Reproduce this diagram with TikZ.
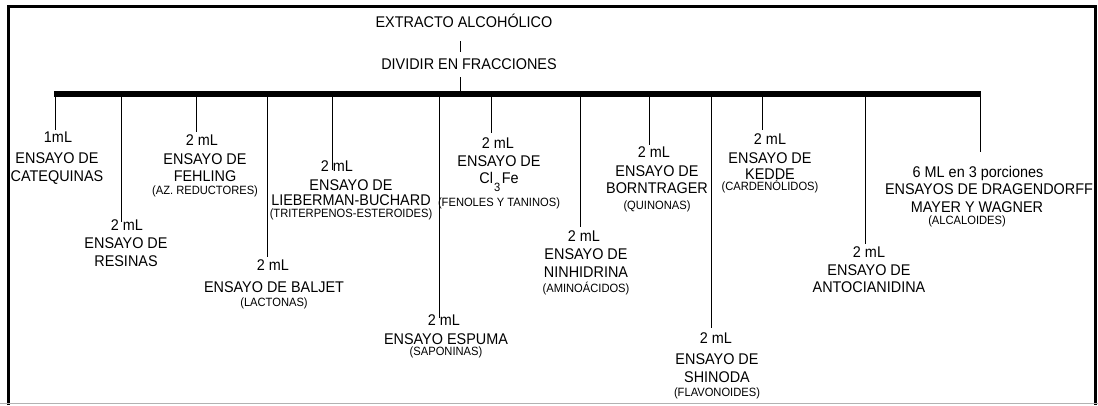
\documentclass[tikz,border=0pt]{standalone}
\usepackage{fontspec}
\setmainfont[FakeStretch=0.93]{Liberation Sans}
\newcommand\smf{\fontsize{12}{13}\selectfont}

\begin{document}
\begin{tikzpicture}[x=1pt,y=-1pt,
  txt/.style={font=\fontsize{15.5}{18}\selectfont,inner sep=0pt,align=center},
  branch/.style={line width=1pt},
  bar/.style={line width=6pt}]
\useasboundingbox (0,0) rectangle (1098,405);
%\draw[step=50,gray,very thin] (0,0) grid (1098,405); %background grid

% frame
\draw[line width=3pt] (8.5,405) -- (8.5,6.5) -- (1095.5,6.5) -- (1095.5,405);
\draw[gray!60] (0,403.5) -- (1098,403.5);

% top
\node[txt,anchor=base] (extr) at (464,27.5) {EXTRACTO ALCOHÓLICO};
\node[txt,anchor=base] (divi) at (469,69.5) {DIVIDIR EN FRACCIONES};
\coordinate (mid) at (460.5,80);
\coordinate (bL) at (54,94);
\coordinate (bR) at (981,94);
\draw[branch,shorten <=13.5pt,shorten >=6.5pt] (extr.south -| mid) -- (divi.north -| mid);
\draw[branch,shorten <=7.5pt] (divi.south -| mid) -- (mid |- bL);
\draw[bar] (bL) -- (bR);

% fractions
\node[txt,anchor=base] (catq-v) at (58,142.5) {1mL};
\node[txt,anchor=north] (catq) at (57,152.5) {ENSAYO DE\\CATEQUINAS};

\node[txt,anchor=base] (resi-v) at (127,230.5) {2 mL};
\node[txt,anchor=north] (resi) at (126,237.5) {ENSAYO DE\\RESINAS};

\node[txt,anchor=base] (fehl-v) at (202,145.5) {2 mL};
\node[txt,anchor=north] (fehl) at (205,153.5) {ENSAYO DE\\[-1pt]FEHLING\\[-5.5pt]{\smf (AZ. REDUCTORES)}};

\node[txt,anchor=base] (balj-v) at (273,270.5) {2 mL};
\node[txt,anchor=north] (balj) at (274,281.5) {ENSAYO DE BALJET\\[-4.5pt]{\smf (LACTONAS)}};

\node[txt,anchor=base] (lieb-v) at (337,171.5) {2 mL};
\node[txt,anchor=north] (lieb) at (351,179.5) {ENSAYO DE\\[-3pt]LIEBERMAN-BUCHARD\\[-6.5pt]{\smf (TRITERPENOS-ESTEROIDES)}};

\node[txt,anchor=base] (espu-v) at (444,325) {2 mL};
\node[txt,anchor=north] (espu) at (446,333.5) {ENSAYO ESPUMA\\[-7pt]{\smf (SAPONINAS)}};

\node[txt,anchor=base] (clfe-v) at (498,148.5) {2 mL};
\node[txt,anchor=north] (clfe) at (499,155.5) {ENSAYO DE\\[-1pt]Cl\kern1pt\raisebox{-8pt}{\smf 3}\kern1.5ptFe\\[4.5pt]{\smf (FENOLES Y TANINOS)}};

\node[txt,anchor=base] (ninh-v) at (584,241.5) {2 mL};
\node[txt,anchor=north] (ninh) at (586,248.5) {ENSAYO DE\\NINHIDRINA\\[-3.5pt]{\smf (AMINOÁCIDOS)}};

\node[txt,anchor=base] (born-v) at (654,157.5) {2 mL};
\node[txt,anchor=north] (born) at (657,165.5) {ENSAYO DE\\[-1pt]BORNTRAGER\\[-2.5pt]{\smf (QUINONAS)}};

\node[txt,anchor=base] (shin-v) at (716,343.5) {2 mL};
\node[txt,anchor=north] (shin) at (717,353.5) {ENSAYO DE\\SHINODA\\[-4.5pt]{\smf (FLAVONOIDES)}};

\node[txt,anchor=base] (kedd-v) at (770,144.5) {2 mL};
\node[txt,anchor=north] (kedd) at (770,152.5) {ENSAYO DE\\[-2pt]KEDDE\\[-7pt]{\smf (CARDENÓLIDOS)}};

\node[txt,anchor=base] (anto-v) at (869,257.5) {2 mL};
\node[txt,anchor=north] (anto) at (869,264.5) {ENSAYO DE\\[-1pt]ANTOCIANIDINA};

\node[txt,anchor=base] (drag-v) at (978,177.5) {6 ML en 3 porciones};
\node[txt,anchor=base] (drag-a) at (989,194.5) {ENSAYOS DE DRAGENDORFF};
\node[txt,anchor=base] (drag-b) at (977,212.5) {MAYER Y WAGNER};
\node[txt,anchor=base] (drag-c) at (967,224) {\smf (ALCALOIDES)};

% branch ends
\coordinate (catq-e) at (55,130);
\coordinate (resi-e) at (121,222);
\coordinate (fehl-e) at (196,132);
\coordinate (balj-e) at (267,257);
\coordinate (lieb-e) at (332,170);
\coordinate (espu-e) at (439,318);
\coordinate (clfe-e) at (491,133);
\coordinate (ninh-e) at (580,227);
\coordinate (born-e) at (649,145);
\coordinate (shin-e) at (711,328);
\coordinate (kedd-e) at (762,130);
\coordinate (anto-e) at (865,244);
\coordinate (drag-e) at (980,152);

\draw[branch] (catq-e |- bL) -- (catq-e);
\draw[branch] (resi-e |- bL) -- (resi-e);
\draw[branch] (fehl-e |- bL) -- (fehl-e);
\draw[branch] (balj-e |- bL) -- (balj-e);
\draw[branch] (lieb-e |- bL) -- (lieb-e);
\draw[branch] (espu-e |- bL) -- (espu-e);
\draw[branch] (clfe-e |- bL) -- (clfe-e);
\draw[branch] (ninh-e |- bL) -- (ninh-e);
\draw[branch] (born-e |- bL) -- (born-e);
\draw[branch] (shin-e |- bL) -- (shin-e);
\draw[branch] (kedd-e |- bL) -- (kedd-e);
\draw[branch] (anto-e |- bL) -- (anto-e);
\draw[branch] (drag-e |- bL) -- (drag-e);
\end{tikzpicture}
\end{document}
